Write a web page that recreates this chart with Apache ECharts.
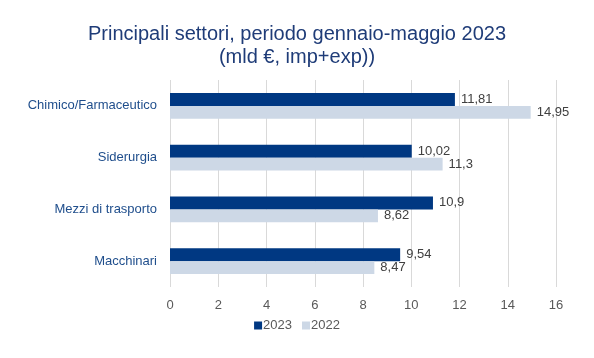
<!DOCTYPE html>
<html><head><meta charset="utf-8">
<script src="https://cdn.jsdelivr.net/npm/echarts@6/dist/echarts.min.js"></script>
<style>html,body{margin:0;padding:0;background:#fff}#c{width:594px;height:358px}</style>
</head><body><div id="c"></div>
<script>
const categories = ['Chimico/Farmaceutico', 'Siderurgia', 'Mezzi di trasporto', 'Macchinari'];
const values2023 = [11.81, 10.02, 10.9, 9.54];
const values2022 = [14.95, 11.3, 8.62, 8.47];
const xTicks = [0, 2, 4, 6, 8, 10, 12, 14, 16];

const chart = echarts.init(document.getElementById('c'));
const fmt = p => String(p.value).replace('.', ',');
chart.setOption({
  animation: false,
  textStyle: { fontFamily: 'Liberation Sans, Arial, sans-serif' },
  title: {
    text: 'Principali settori, periodo gennaio-maggio 2023\n(mld €, imp+exp))',
    left: 'center', top: 18,
    textStyle: { color: '#1f3c78', fontSize: 20, fontWeight: 'normal', lineHeight: 23, fontFamily: 'Liberation Sans, Arial, sans-serif' }
  },
  legend: {
    bottom: 21, left: 'center',
    itemWidth: 8, itemHeight: 8, itemGap: 10,
    icon: 'rect',
    textStyle: { color: '#595959', fontSize: 13, padding: [0, 0, 0, -4] },
    data: ['2023', '2022']
  },
  grid: { left: 170, right: 38, top: 80, bottom: 71, containLabel: false },
  xAxis: {
    type: 'value', min: xTicks[0], max: xTicks[xTicks.length - 1], interval: 2,
    axisLine: { show: false }, axisTick: { show: false },
    axisLabel: { color: '#595959', fontSize: 13, margin: 12 },
    splitLine: { lineStyle: { color: '#d9d9d9', width: 1 } }
  },
  yAxis: {
    type: 'category', data: categories, inverse: true,
    axisLine: { show: false }, axisTick: { show: false },
    axisLabel: { color: '#1f4e8c', fontSize: 13, margin: 13 }
  },
  series: [
    { name: '2023', type: 'bar', data: values2023, barGap: '0%', barCategoryGap: '50%',
      itemStyle: { color: '#003882' },
      label: { show: true, position: 'right', color: '#404040', fontSize: 13, formatter: fmt, distance: 6 } },
    { name: '2022', type: 'bar', data: values2022,
      itemStyle: { color: '#cdd8e6' },
      label: { show: true, position: 'right', color: '#404040', fontSize: 13, formatter: fmt, distance: 6 } }
  ]
});
</script></body></html>
